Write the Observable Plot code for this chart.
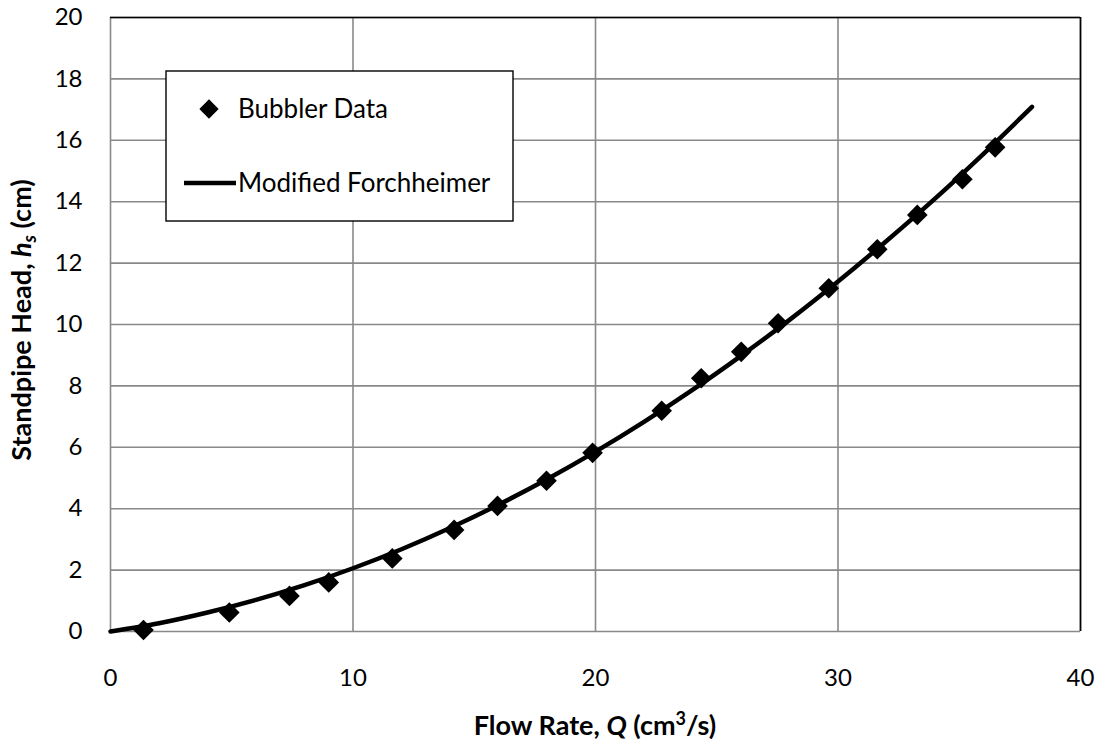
<!DOCTYPE html>
<html><head><meta charset="utf-8">
<script src="https://cdn.jsdelivr.net/npm/d3@7"></script>
<script src="https://cdn.jsdelivr.net/npm/@observablehq/plot@0.6"></script>
<style>body{margin:0;background:#fff;} svg{display:block}</style>
</head><body><div id="chart"></div>
<script>
// Measured data ("Bubbler Data")
const flowQ = [1.36, 4.90, 7.38, 9.00, 11.62, 14.17, 15.96, 17.98, 19.88, 22.73, 24.36, 26.01, 27.53, 29.62, 31.62, 33.27, 35.13, 36.48];
const headH = [0.05, 0.62, 1.16, 1.60, 2.38, 3.31, 4.09, 4.91, 5.82, 7.19, 8.25, 9.11, 10.04, 11.18, 12.45, 13.57, 14.73, 15.77];
// Curve ("Modified Forchheimer")
const fitQ = [0, 2, 4, 6, 8, 10, 12, 14, 16, 18, 20, 22, 24, 26, 28, 30, 32, 34, 36, 38];
const fitH = [0, 0.27, 0.62, 1.03, 1.51, 2.06, 2.68, 3.37, 4.13, 4.96, 5.86, 6.83, 7.87, 8.98, 10.15, 11.40, 12.72, 14.10, 15.56, 17.09];
// Tick labels
const xTicks = [0, 10, 20, 30, 40];
const yTicks = [0, 2, 4, 6, 8, 10, 12, 14, 16, 18, 20];
const seriesNames = ["Bubbler Data", "Modified Forchheimer"];

const data = flowQ.map((q, i) => ({q, h: headH[i]}));
const fit = fitQ.map((q, i) => ({q, h: fitH[i]}));

const FONT = "Lato, 'Liberation Sans', sans-serif";
const gridColor = "#898989";

const plot = Plot.plot({
  width: 1101, height: 747,
  marginLeft: 110, marginRight: 21, marginTop: 17, marginBottom: 116,
  style: {fontFamily: FONT, fontSize: "24px", color: "#000", background: "#fff"},
  x: {domain: [0, 40], label: null},
  y: {domain: [0, 20], label: null},
  marks: [
    Plot.gridX(xTicks, {stroke: gridColor, strokeOpacity: 1, strokeWidth: 1.6}),
    Plot.gridY(yTicks, {stroke: gridColor, strokeOpacity: 1, strokeWidth: 1.6}),
    Plot.ruleX([40], {stroke: "#000", strokeWidth: 1.6}),
    Plot.ruleY([20], {stroke: "#000", strokeWidth: 1.6}),
    Plot.axisX(xTicks, {tickSize: 0, tickPadding: 37, fontSize: 24, label: null}),
    Plot.axisY(yTicks, {tickSize: 0, tickPadding: 28, fontSize: 24, label: null}),
    Plot.line(fit, {x: "q", y: "h", curve: "catmull-rom", stroke: "#000", strokeWidth: 4.5}),
    Plot.dot(data, {x: "q", y: "h", symbol: "diamond2", r: 9.3, fill: "#000", stroke: "none"})
  ]
});
document.getElementById("chart").appendChild(plot);

const svg = d3.select(plot);

// X axis title
const xt = svg.append("text")
  .attr("x", 595).attr("y", 735)
  .attr("text-anchor", "middle")
  .attr("font-family", FONT).attr("font-size", 27).attr("font-weight", "bold").attr("fill", "#000");
xt.append("tspan").text("Flow Rate, ");
xt.append("tspan").attr("font-style", "italic").text("Q");
xt.append("tspan").text(" (cm");
xt.append("tspan").attr("font-size", 18).attr("dy", -10).text("3");
xt.append("tspan").attr("dy", 10).text("/s)");

// Y axis title
const yt = svg.append("text")
  .attr("transform", "translate(31,320) rotate(-90)")
  .attr("text-anchor", "middle")
  .attr("font-family", FONT).attr("font-size", 27).attr("font-weight", "bold").attr("fill", "#000");
yt.append("tspan").text("Standpipe Head, ");
yt.append("tspan").attr("font-style", "italic").text("h");
yt.append("tspan").attr("font-style", "italic").attr("font-size", 18).attr("dy", 5).text("s");
yt.append("tspan").attr("dy", -5).text(" (cm)");

// Legend
const lg = svg.append("g").attr("font-family", FONT).attr("font-size", 26).attr("fill", "#000").attr("text-anchor", "start");
lg.append("rect").attr("x", 166).attr("y", 71).attr("width", 347).attr("height", 150)
  .attr("fill", "#fff").attr("stroke", "#000").attr("stroke-width", 1.4);
lg.append("path").attr("d", d3.symbol(d3.symbolDiamond2, 237)()).attr("transform", "translate(209,109)").attr("fill", "#000");
lg.append("text").attr("x", 238).attr("y", 109).attr("dy", "0.35em").text(seriesNames[0]);
lg.append("line").attr("x1", 184).attr("x2", 236).attr("y1", 183).attr("y2", 183).attr("stroke", "#000").attr("stroke-width", 4.5);
lg.append("text").attr("x", 238).attr("y", 183).attr("dy", "0.35em").text(seriesNames[1]);
</script></body></html>
